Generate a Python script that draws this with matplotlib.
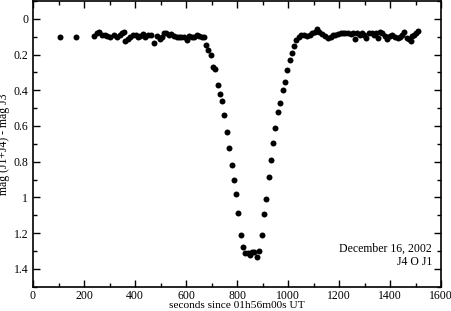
import matplotlib.pyplot as plt
from matplotlib.ticker import MultipleLocator

# ============================================================ #
# Data (seconds, magnitude difference)
# ============================================================ #
t_early = [105, 170]
mag_early = [0.100, 0.100]

t_before = [241, 251, 260, 270, 281, 290, 303, 316, 329, 340, 349, 356, 362,
            373, 382, 392, 402, 411, 421, 432, 441, 451, 461, 476, 487, 496,
            507, 513, 522, 533, 542, 552, 563, 572, 581, 592, 602, 611, 622,
            631, 642, 651, 661, 670]
mag_before = [0.096, 0.081, 0.074, 0.089, 0.092, 0.096, 0.100, 0.092, 0.100,
              0.089, 0.081, 0.074, 0.123, 0.111, 0.100, 0.091, 0.089, 0.100,
              0.096, 0.085, 0.100, 0.092, 0.089, 0.138, 0.096, 0.115, 0.104,
              0.077, 0.081, 0.089, 0.085, 0.096, 0.100, 0.104, 0.100, 0.104,
              0.119, 0.096, 0.100, 0.100, 0.089, 0.096, 0.104, 0.100]

t_dip = [677, 686, 697, 705, 715, 724, 732, 741, 749, 760, 769, 781, 787, 795,
         804, 814, 823, 833, 844, 850, 859, 867, 878, 887, 896, 906, 915, 924,
         933, 942, 950, 959, 970, 979, 988, 997, 1007, 1015, 1024, 1031, 1041]
mag_dip = [0.147, 0.172, 0.204, 0.270, 0.279, 0.372, 0.421, 0.459, 0.540,
           0.633, 0.724, 0.818, 0.901, 0.980, 1.086, 1.212, 1.275, 1.313,
           1.313, 1.324, 1.305, 1.305, 1.331, 1.301, 1.212, 1.093, 1.010,
           0.884, 0.792, 0.695, 0.614, 0.521, 0.474, 0.397, 0.355, 0.289,
           0.228, 0.191, 0.151, 0.119, 0.100]

t_after = [1051, 1064, 1075, 1084, 1093, 1104, 1114, 1123, 1134, 1146, 1156,
           1167, 1176, 1185, 1196, 1206, 1215, 1224, 1235, 1245, 1255, 1261,
           1272, 1281, 1290, 1298, 1307, 1316, 1327, 1337, 1346, 1353, 1359,
           1369, 1379, 1389, 1399, 1408, 1419, 1429, 1438, 1445, 1454, 1465,
           1474, 1480, 1487, 1495, 1501, 1508]
mag_after = [0.089, 0.089, 0.096, 0.092, 0.081, 0.074, 0.058, 0.074, 0.085,
             0.096, 0.108, 0.100, 0.092, 0.092, 0.085, 0.081, 0.077, 0.081,
             0.077, 0.085, 0.077, 0.111, 0.081, 0.089, 0.081, 0.089, 0.108,
             0.081, 0.081, 0.089, 0.081, 0.108, 0.074, 0.081, 0.096, 0.111,
             0.096, 0.089, 0.100, 0.108, 0.100, 0.092, 0.074, 0.108, 0.115,
             0.123, 0.096, 0.089, 0.081, 0.070]

times = t_early + t_before + t_dip + t_after
mags = mag_early + mag_before + mag_dip + mag_after

# ============================================================ #
# Plotting
# ============================================================ #
plt.rcParams["font.family"] = ["Liberation Serif", "DejaVu Serif"]
plt.rcParams["font.size"] = 8.5

fig = plt.figure(figsize=(4.52, 3.11), dpi=100)
ax = fig.add_axes([0.073, 0.078, 0.903, 0.919])

ax.plot(times, mags, "o", color="black", markersize=4.3, markeredgewidth=0)

ax.set_xlim(0, 1600)
ax.set_ylim(1.5, -0.1)
ax.xaxis.set_major_locator(MultipleLocator(200))
ax.xaxis.set_minor_locator(MultipleLocator(100))
ax.yaxis.set_major_locator(MultipleLocator(0.2))
ax.yaxis.set_minor_locator(MultipleLocator(0.1))
ax.yaxis.set_major_formatter(plt.FuncFormatter(lambda v, p: f"{v:g}"))
ax.tick_params(which="both", direction="in", top=True, right=True, width=1)
ax.tick_params(axis="x", which="major", pad=2)
ax.tick_params(which="major", length=5)
ax.tick_params(which="minor", length=3)
for sp in ax.spines.values():
    sp.set_linewidth(1.2)

# x label sits tight against the bottom edge, as in the original
ax.set_xlabel("seconds since 01h56m00s UT", va="center", fontsize=8.2)
ax.xaxis.set_label_coords(0.5, -18.5 / 286.0)
ax.set_ylabel("mag (J1+J4) - mag J3", labelpad=2)

ax.text(1565, 1.29, "December 16, 2002", ha="right", va="center")
ax.text(1565, 1.36, "J4 O J1", ha="right", va="center")

fig.savefig("out.png", dpi=100)
